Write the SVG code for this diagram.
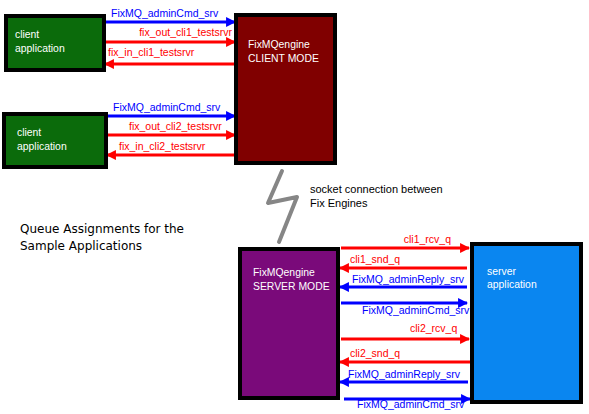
<svg xmlns="http://www.w3.org/2000/svg" width="589" height="414" viewBox="0 0 589 414">
<style>
.box{stroke:#000;stroke-width:4}
.wt{fill:#fff;font-family:"Liberation Sans",Arial,sans-serif;font-size:10.4px}
.lb{font-family:"Liberation Sans",Arial,sans-serif;font-size:10.5px}
.r{stroke:#f00;stroke-width:3;fill:none}
.b{stroke:#00f;stroke-width:3;fill:none}
.rt{fill:#f00}
.bt{fill:#00f}
</style>
<defs>
<marker id="ar" viewBox="0 0 10 10" refX="9" refY="5" markerWidth="3.3" markerHeight="3.3" orient="auto" markerUnits="strokeWidth"><path d="M0,0L10,5L0,10z" fill="#f00"/></marker>
<marker id="ab" viewBox="0 0 10 10" refX="9" refY="5" markerWidth="3.3" markerHeight="3.3" orient="auto" markerUnits="strokeWidth"><path d="M0,0L10,5L0,10z" fill="#00f"/></marker>
</defs>
<rect width="589" height="414" fill="#fff"/>
<g id="connectors">
<line class="b" x1="106" y1="22" x2="235" y2="22" marker-end="url(#ab)"/>
<line class="r" x1="106" y1="42" x2="235" y2="42" marker-end="url(#ar)"/>
<line class="r" x1="234" y1="64" x2="105" y2="64" marker-end="url(#ar)"/>
<line class="b" x1="108" y1="116" x2="235" y2="116" marker-end="url(#ab)"/>
<line class="r" x1="108" y1="135" x2="235" y2="135" marker-end="url(#ar)"/>
<line class="r" x1="234" y1="155" x2="107" y2="155" marker-end="url(#ar)"/>
<line class="r" x1="341" y1="248" x2="469" y2="248" marker-end="url(#ar)"/>
<line class="r" x1="467" y1="268" x2="340" y2="268" marker-end="url(#ar)"/>
<line class="b" x1="467" y1="287" x2="340" y2="287" marker-end="url(#ab)"/>
<line class="b" x1="341" y1="303" x2="467" y2="303" marker-end="url(#ab)"/>
<line class="r" x1="341" y1="339" x2="469" y2="339" marker-end="url(#ar)"/>
<line class="r" x1="470" y1="362" x2="340" y2="362" marker-end="url(#ar)"/>
<line class="b" x1="468" y1="382" x2="340" y2="382" marker-end="url(#ab)"/>
<line class="b" x1="344" y1="399" x2="470" y2="399" marker-end="url(#ab)"/>
<polyline points="282,171 268,203 297,197 279,242" fill="none" stroke="#868686" stroke-width="4" stroke-linejoin="round" stroke-linecap="round"/>
<text class="lb bt" x="111" y="17">FixMQ_adminCmd_srv</text>
<text class="lb rt" x="232" y="36" text-anchor="end">fix_out_cli1_testsrvr</text>
<text class="lb rt" x="108" y="56">fix_in_cli1_testsrvr</text>
<text class="lb bt" x="113" y="111">FixMQ_adminCmd_srv</text>
<text class="lb rt" x="129" y="130">fix_out_cli2_testsrvr</text>
<text class="lb rt" x="119" y="150">fix_in_cli2_testsrvr</text>
<text class="lb rt" x="451" y="243" text-anchor="end">cli1_rcv_q</text>
<text class="lb rt" x="350" y="263">cli1_snd_q</text>
<text class="lb bt" x="352" y="283">FixMQ_adminReply_srv</text>
<text class="lb bt" x="362" y="314">FixMQ_adminCmd_srv</text>
<text class="lb rt" x="410" y="332">cli2_rcv_q</text>
<text class="lb rt" x="350" y="357">cli2_snd_q</text>
<text class="lb bt" x="348" y="378">FixMQ_adminReply_srv</text>
<text class="lb bt" x="357" y="408">FixMQ_adminCmd_srv</text>
</g>
<g id="client1">
<rect class="box" x="6" y="16" width="98" height="54" fill="#0b6b0b"/>
<text class="wt" x="15" y="38">client</text>
<text class="wt" x="15" y="52">application</text>
</g>
<g id="client2">
<rect class="box" x="4" y="114" width="102" height="53" fill="#0b6b0b"/>
<text class="wt" x="17" y="136">client</text>
<text class="wt" x="17" y="150">application</text>
</g>
<g id="client-engine">
<rect class="box" x="236" y="15" width="99" height="148" fill="#800000"/>
<text class="wt" x="248" y="48">FixMQengine</text>
<text class="wt" x="248" y="62">CLIENT MODE</text>
</g>
<g id="server-engine">
<rect class="box" x="240" y="249" width="98" height="149" fill="#7a0a7a"/>
<text class="wt" x="253" y="276">FixMQengine</text>
<text class="wt" x="253" y="290">SERVER MODE</text>
</g>
<g id="server-app">
<rect class="box" x="472" y="244" width="109" height="158" fill="#0a86f0"/>
<text class="wt" x="487" y="275">server</text>
<text class="wt" x="487" y="288">application</text>
</g>
<g id="notes">
<text x="310" y="193" font-family="'Liberation Sans',Arial,sans-serif" font-size="11" fill="#000">socket connection between</text>
<text x="310" y="207" font-family="'Liberation Sans',Arial,sans-serif" font-size="11" fill="#000">Fix Engines</text>
<text x="20" y="233" font-family="'Comic Sans MS','DejaVu Sans',sans-serif" font-size="12" fill="#000">Queue Assignments for the</text>
<text x="20" y="250" font-family="'Comic Sans MS','DejaVu Sans',sans-serif" font-size="12" fill="#000">Sample Applications</text>
</g>
</svg>
